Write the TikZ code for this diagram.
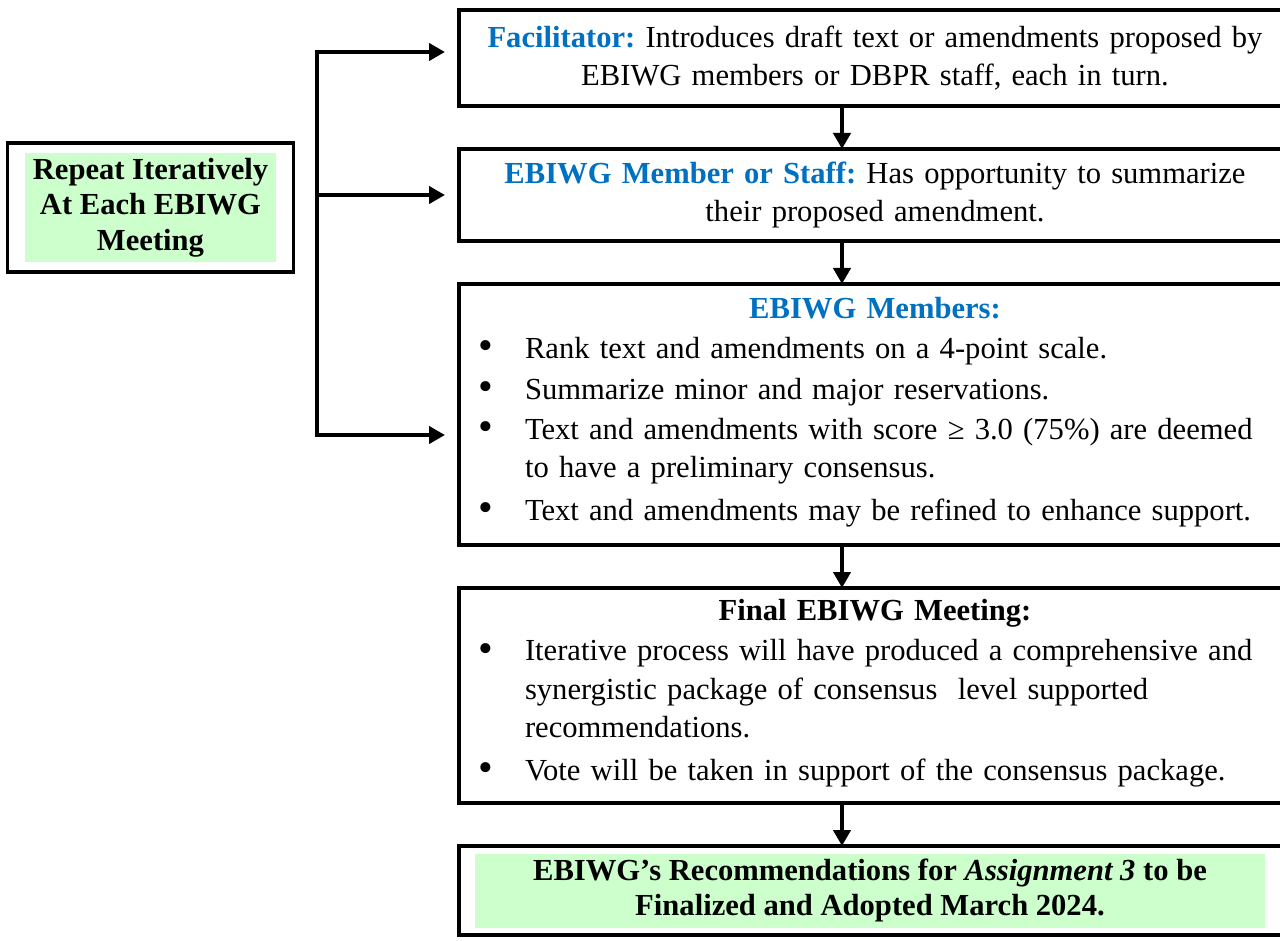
\documentclass[tikz,border=0pt]{standalone}
\usepackage{fontspec}
\setmainfont{Liberation Serif}
\usepackage{tikz}
\usetikzlibrary{arrows.meta,positioning,fit}
\definecolor{ebblue}{HTML}{0070C0}
\definecolor{ebgreen}{HTML}{CCFFCC}
\newcommand{\bitem}[1]{\par\vspace{1pt}\noindent\makebox[27pt][l]{\hspace{3.5pt}\raisebox{-0.6pt}{\fontsize{21}{21}\selectfont\textbullet}}\parbox[t]{377pt}{\strut#1\strut}}
\tikzset{
    stepbox/.style={rectangle, draw=black, line width=1.75pt, outer sep=0pt,
      minimum width=416pt, text width=404pt, inner xsep=6pt, inner ysep=3pt, align=center},
    listbox/.style={stepbox, align=left},
    greenbox/.style={rectangle, fill=ebgreen, inner sep=0pt, align=center, font=\fontsize{15.3}{17.8}\selectfont\bfseries},
    pil/.style={-{Triangle[length=8pt,width=8.5pt]}, line width=2pt},
    spine/.style={line width=2pt, line cap=rect}
}
\begin{document}
\begin{tikzpicture}[x=0.5pt, y=-0.5pt, node distance=21.5pt, font=\fontsize{15.3}{19.2}\selectfont\frenchspacing]
    \useasboundingbox (0,0) rectangle (1280,941);

    % main column
    \node[stepbox, minimum height=48pt, anchor=north west] (facil) at (459,10)
      {\textcolor{ebblue}{\textbf{Facilitator:}} Introduces draft text or amendments proposed by\\
      EBIWG members or DBPR staff, each in turn.};
    \node[stepbox, minimum height=46pt, below=of facil] (member)
      {\textcolor{ebblue}{\textbf{EBIWG Member or Staff:}} Has opportunity to summarize\\
      their proposed amendment.};
    \node[listbox, minimum height=130.5pt, below=of member] (members)
      {{\centering\textcolor{ebblue}{\textbf{EBIWG Members:}}\par}
      \bitem{Rank text and amendments on a 4-point scale.}
      \bitem{Summarize minor and major reservations.}
      \bitem{Text and amendments with score ≥ 3.0 (75\%) are deemed\\
        to have a preliminary consensus.}
      \bitem{Text and amendments may be refined to enhance support.}};
    \node[listbox, minimum height=107.5pt, below=of members] (meeting)
      {{\centering\textbf{Final EBIWG Meeting:}\par}
      \bitem{Iterative process will have produced a comprehensive and\\
        synergistic package of consensus\ \ level supported\\
        recommendations.}
      \bitem{Vote will be taken in support of the consensus package.}};
    \node[stepbox, minimum height=44.5pt, below=of meeting] (final) {};
    \node[greenbox, minimum width=395pt, minimum height=37pt, xshift=-2.5pt] (adopt) at (final.center)
      {EBIWG’s Recommendations for \textit{Assignment 3} to be\\
      Finalized and Adopted March 2024.};

    % left label
    \node[greenbox, minimum width=125.5pt, minimum height=54.5pt] (repeat) at (150.5,207.5)
      {Repeat Iteratively\\At Each EBIWG\\Meeting};
    \node[draw=black, line width=1.75pt, fit=(repeat), inner xsep=8.5pt, inner ysep=4.75pt] (repeatbox) {};

    % bracket
    \coordinate (j1) at (317,52);
    \coordinate (j2) at (317,195);
    \coordinate (j3) at (317,435);
    \draw[spine] (j1) -- (j3);
    \draw[pil, shorten >=7pt] (j1) -- (j1 -| facil.west);
    \draw[pil, shorten >=7pt] (j2) -- (j2 -| member.west);
    \draw[pil, shorten >=7pt] (j3) -- (j3 -| members.west);

    % down arrows
    \coordinate (axis) at (842,0);
    \draw[pil] (facil.south -| axis) -- (member.north -| axis);
    \draw[pil] (member.south -| axis) -- (members.north -| axis);
    \draw[pil] (members.south -| axis) -- (meeting.north -| axis);
    \draw[pil] (meeting.south -| axis) -- (final.north -| axis);
\end{tikzpicture}
\end{document}
